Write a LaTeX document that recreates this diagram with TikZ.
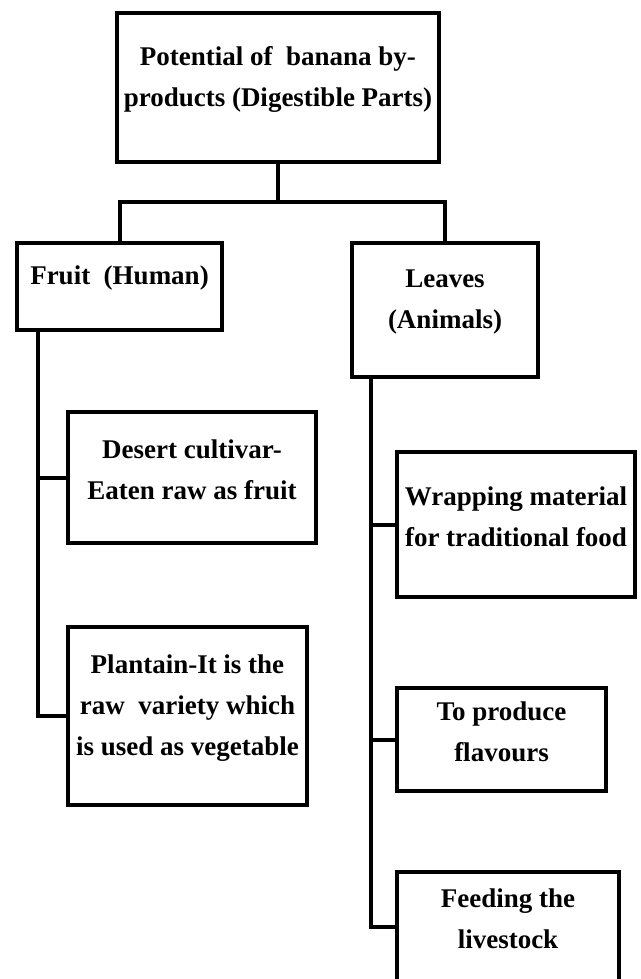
\documentclass[tikz,border=0pt]{standalone}
\usepackage{fontspec}
\setmainfont{Liberation Serif}
\usetikzlibrary{positioning}

\tikzset{
  box/.style={draw, rectangle, line width=4pt, inner sep=0pt},
  txt/.style={font=\fontsize{27}{41}\selectfont\bfseries, align=center, yshift=8pt},
  link/.style={line width=4pt},
}

\begin{document}
\begin{tikzpicture}[x=1pt, y=-1pt]
  \path[use as bounding box, clip] (0,0) rectangle (640,979);
  % Boîte principale
  \node[box, minimum width=322pt, minimum height=149pt,
    label={[txt]center:{Potential of\ \ banana by-\\products (Digestible Parts)}}] (root) at (278,87.5) {};
  % Deux branches
  \node[box, minimum width=205pt, minimum height=87pt,
    label={[txt]center:{Fruit\ \ (Human)}}] (fruit) at (119.5,286.5) {};
  \node[box, minimum width=186pt, minimum height=134pt,
    label={[txt]center:{Leaves\\(Animals)}}] (leaves) at (445,310) {};
  % Usages du fruit
  \node[box, minimum width=248pt, minimum height=131pt,
    label={[txt]center:{Desert cultivar-\\Eaten raw as fruit}}] (desert) at (192,477.5) {};
  \node[box, minimum width=239pt, minimum height=178pt,
    label={[txt]center:{Plantain-It is the\\raw\ \ variety which\\is used as vegetable}}] (plantain) at (187.5,716) {};
  % Usages des feuilles
  \node[box, minimum width=238pt, minimum height=145pt,
    label={[txt]center:{Wrapping material\\for traditional food}}] (wrap) at (516,524.5) {};
  \node[box, minimum width=209pt, minimum height=103pt,
    label={[txt]center:{To produce\\flavours}}] (flavour) at (501.5,739.5) {};
  \node[box, minimum width=222pt, minimum height=110pt,
    label={[txt]center:{Feeding the\\livestock}}] (feed) at (508,927) {};
  % Connexions
  \coordinate (split) at (278,202);
  \draw[link] (root.south) -- (split);
  \draw[link] (split) -| (fruit.north);
  \draw[link] (split) -| (leaves.north);
  \coordinate (fruitspine) at ([xshift=23pt]fruit.south west);
  \foreach \b in {desert, plantain}
    \draw[link] (fruitspine) |- (\b.west);
  \coordinate (leafspine) at ([xshift=21pt]leaves.south west);
  \foreach \b in {wrap, flavour, feed}
    \draw[link] (leafspine) |- (\b.west);
\end{tikzpicture}
\end{document}
